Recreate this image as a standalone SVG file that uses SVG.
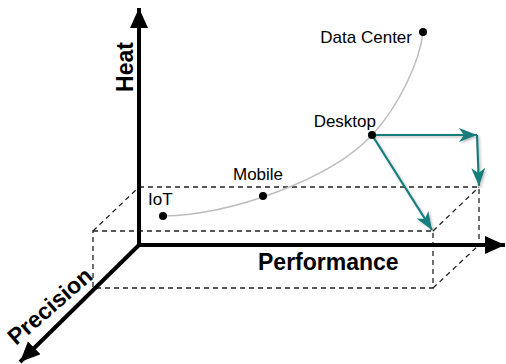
<svg xmlns="http://www.w3.org/2000/svg" width="506" height="364" viewBox="0 0 506 364">
<style>
.axis{stroke:#000;stroke-width:4;fill:none}
.dash{stroke:#222;stroke-width:1.3;stroke-dasharray:5 4;fill:none}
.teal{stroke:#177b7b;stroke-width:2.2;fill:none}
.lbl{font-family:"Liberation Sans",Arial,sans-serif;font-size:17px;fill:#000}
.big{font-family:"Liberation Sans",Arial,sans-serif;font-size:23px;font-weight:bold;fill:#000}
.dot{fill:#000}
</style>
<defs>
<marker id="ah" markerUnits="userSpaceOnUse" markerWidth="22" markerHeight="20" refX="20" refY="9" orient="auto">
<path d="M0,0 L20,9 L0,18 Z" fill="#000"/>
</marker>
<marker id="th" markerUnits="userSpaceOnUse" markerWidth="20" markerHeight="16" refX="18" refY="7" orient="auto">
<path d="M0,0 L18,7 L0,14 L5,7 Z" fill="#177b7b"/>
</marker>
<filter id="sh" x="-20%" y="-20%" width="140%" height="140%">
<feDropShadow dx="1.5" dy="1.5" stdDeviation="1" flood-color="#000" flood-opacity="0.25"/>
</filter>
</defs>
<g id="box">
<path class="dash" d="M139,187 H479 V245"/>
<path class="dash" d="M93,231 H433 V288 H93 Z"/>
<path class="dash" d="M93,231 L139,187 M433,231 L479,187 M433,288 L479,245"/>
</g>
<g id="connectors">
<path id="curve" d="M163,216 C230,215 330,180 372,135 C400,105 420,60 423,32" stroke="#bdbdbd" stroke-width="1.5" fill="none"/>
<g filter="url(#sh)">
<path class="teal" d="M372,135 L477,135" marker-end="url(#th)"/>
<path class="teal" d="M477,135 L479,186" marker-end="url(#th)"/>
<path class="teal" d="M372,135 L432,230" marker-end="url(#th)"/>
</g>
</g>
<g id="axes">
<line class="axis" x1="139" y1="247" x2="139" y2="8" marker-end="url(#ah)"/>
<line class="axis" x1="137" y1="245" x2="505" y2="245" marker-end="url(#ah)"/>
<line class="axis" x1="139" y1="245" x2="20" y2="362" marker-end="url(#ah)"/>
<text class="big" transform="translate(133,67) rotate(-90)" text-anchor="middle">Heat</text>
<text class="big" x="258" y="270">Performance</text>
<text class="big" transform="translate(55,312) rotate(-41)" text-anchor="middle">Precision</text>
</g>
<g id="iot"><circle class="dot" cx="163" cy="216" r="4"/><text class="lbl" x="148" y="205">IoT</text></g>
<g id="mobile"><circle class="dot" cx="263" cy="196" r="4"/><text class="lbl" x="233" y="180">Mobile</text></g>
<g id="desktop"><circle class="dot" cx="372" cy="135" r="4"/><text class="lbl" x="376" y="127" text-anchor="end">Desktop</text></g>
<g id="datacenter"><circle class="dot" cx="423" cy="32" r="4"/><text class="lbl" x="412" y="43" text-anchor="end">Data Center</text></g>
</svg>
